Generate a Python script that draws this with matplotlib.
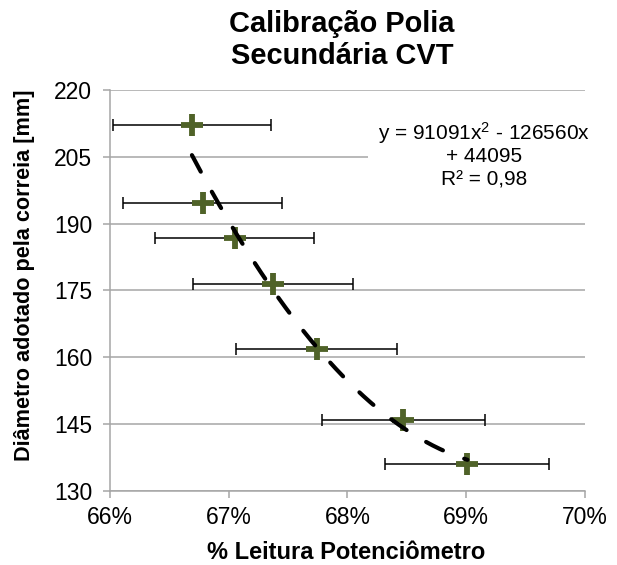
import numpy as np
import matplotlib
matplotlib.use('Agg')
import matplotlib.pyplot as plt
from matplotlib.ticker import FuncFormatter

plt.rcParams['font.family'] = ['Liberation Sans', 'DejaVu Sans']
plt.rcParams['mathtext.fontset'] = 'custom'
plt.rcParams['mathtext.rm'] = 'Liberation Sans'
plt.rcParams['mathtext.it'] = 'Liberation Sans'

# leitura do potenciometro (%) x diametro adotado pela correia (mm)
leitura = [66.69, 66.78, 67.05, 67.37, 67.74, 68.47, 69.01]
diametro = [212.1, 194.7, 186.7, 176.4, 161.8, 145.8, 136.1]
erro_pct = 1.0  # barra de erro: 1% do valor

# linha de tendencia (polinomial de ordem 2), x em fracao
coef = [91091, -126560, 44095]
eq_linhas = ['y = 91091x$^{2}$ - 126560x', '+ 44095', 'R² = 0,98']

W, H = 617, 565
fig = plt.figure(figsize=(W / 100, H / 100), dpi=100)
ax = fig.add_axes([110 / W, 1 - 490.7 / H, 475 / W, 400.7 / H])

x = np.array(leitura) / 100
y = np.array(diametro)
xerr = x * erro_pct / 100

cinza = '#A6A6A6'
verde = '#4F6228'

ax.errorbar(x, y, xerr=xerr, fmt='none', ecolor='black', elinewidth=1.1,
            capsize=4, capthick=1.1, zorder=3)
ax.plot(x, y, linestyle='none', marker='+', markersize=15.6,
        markeredgewidth=4.2, color=verde, zorder=4)

xt = np.linspace(x.min(), x.max(), 200)
ax.plot(xt, np.polyval(coef, xt), color='black', linewidth=3,
        linestyle=(0, (4.5, 5.5)), dash_capstyle='round', zorder=5)

ax.set_xlim(0.66, 0.70)
ax.set_ylim(130, 220)
ax.set_xticks(np.arange(0.66, 0.7001, 0.01))
ax.set_yticks(np.arange(130, 221, 15))
ax.xaxis.set_major_formatter(FuncFormatter(lambda v, p: f'{v * 100:.0f}%'))

ax.grid(axis='y', color=cinza, linewidth=1.1, zorder=0)
ax.set_axisbelow(True)
for s in ['top', 'right']:
    ax.spines[s].set_visible(False)
for s in ['left', 'bottom']:
    ax.spines[s].set_color(cinza)
    ax.spines[s].set_linewidth(1.1)
ax.tick_params(axis='both', colors=cinza, labelcolor='black', labelsize=16.5,
               length=4.8, width=1.1, direction='out')
ax.tick_params(axis='y', pad=8)
ax.tick_params(axis='x', pad=6)

# caixa branca da equacao
caixa = plt.Rectangle((368 / W, 1 - 215 / H), (610 - 368) / W, 115 / H,
                      transform=fig.transFigure, facecolor='white',
                      edgecolor='none', zorder=2)
ax.add_patch(caixa)
for linha, yb in zip(eq_linhas, [139.5, 162.5, 186]):
    fig.text(484 / W, 1 - yb / H, linha, ha='center', va='baseline',
             fontsize=15, zorder=6)

fig.text(342 / W, 1 - 31.5 / H, 'Calibração Polia', ha='center',
         va='baseline', fontsize=20.9, fontweight='bold')
fig.text(342 / W, 1 - 63.5 / H, 'Secundária CVT', ha='center',
         va='baseline', fontsize=20.9, fontweight='bold')

fig.text(346 / W, 1 - 559 / H, '% Leitura Potenciômetro', ha='center',
         va='baseline', fontsize=17, fontweight='bold')
fig.text(25 / W, 1 - 275 / H, 'Diâmetro adotado pela correia [mm]',
         ha='center', va='center', rotation=90, fontsize=15.6,
         fontweight='bold')

fig.savefig('out.png', dpi=100)
